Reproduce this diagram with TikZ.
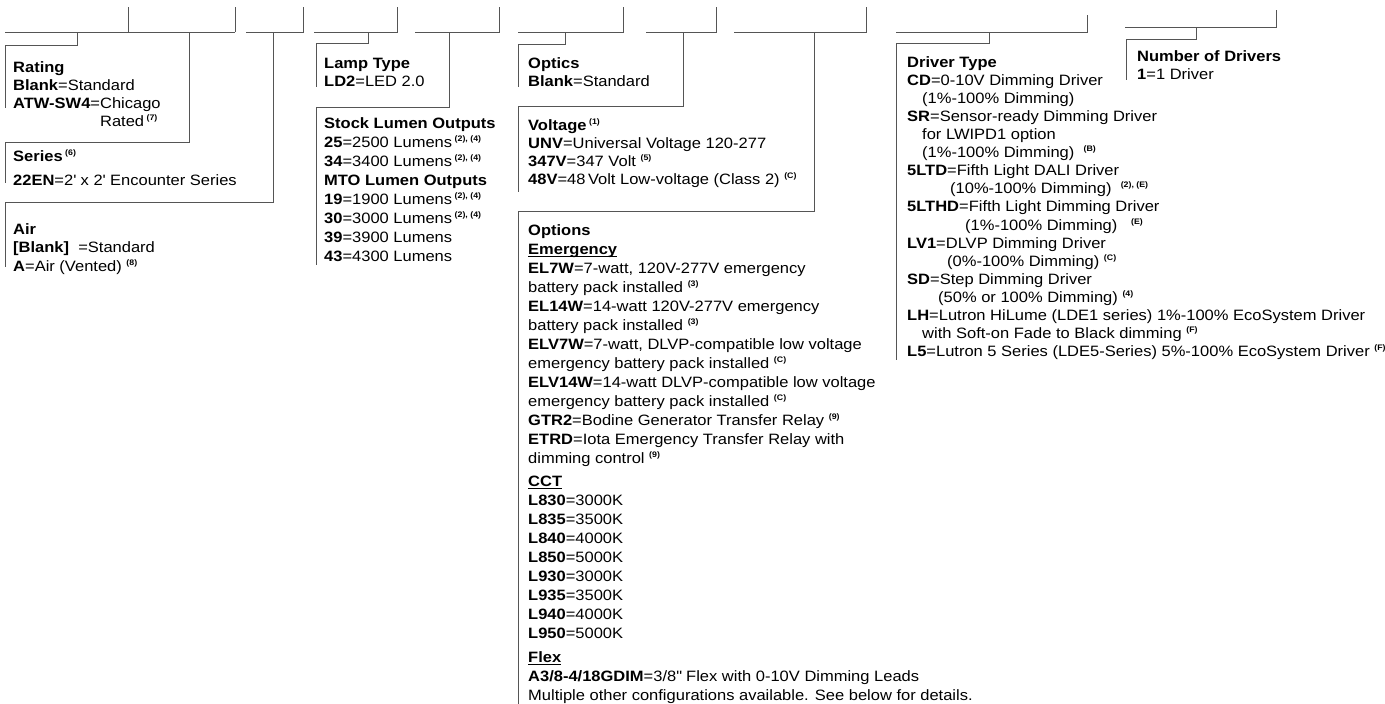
\documentclass[tikz,border=0pt]{standalone}
\usepackage{fontspec}
\setmainfont{Liberation Sans}[FakeStretch=1.1]
\usetikzlibrary{positioning}
\definecolor{rulegray}{RGB}{85,85,85}
\newcommand{\fnref}[1]{\raisebox{6pt}{\fontsize{8}{8}\selectfont\bfseries #1}}
\newsavebox{\ulbox}
\newcommand{\ulhead}[1]{\sbox\ulbox{\textbf{#1}}\rlap{\rule[-2.8pt]{\wd\ulbox}{0.9pt}}\usebox\ulbox}

\begin{document}
\begin{tikzpicture}[x=1pt, y=-1pt,
    guide/.style={draw=rulegray, line width=1pt},
    spec/.style={anchor=north west, inner sep=0pt, align=left, font=\fontsize{15}{#1}\selectfont},
    spec/.default=18]
    \useasboundingbox (0,0) rectangle (1385,704);
    % order slots along the top
    \draw[guide] (5,32) -- (235,32) (128,32) -- (128,7) (235,32) -- (235,7);
    \draw[guide] (246,32) -- (303,32) -- (303,7);
    \draw[guide] (314,32) -- (397,32) -- (397,7);
    \draw[guide] (415,32) -- (499,32) -- (499,7);
    \draw[guide] (518,32) -- (623,32) -- (623,7);
    \draw[guide] (646,32) -- (716,32) -- (716,7);
    \draw[guide] (734,32) -- (866,32) -- (866,7);
    \draw[guide] (896,32) -- (1087,32) -- (1087,15);
    \draw[guide] (1125,27) -- (1276,27) -- (1276,10);
    \coordinate (rating tab) at (77,32);
    \coordinate (series tab) at (189,32);
    \coordinate (air tab) at (273,32);
    \coordinate (lamp tab) at (368,32);
    \coordinate (lumen tab) at (449,32);
    \coordinate (optics tab) at (565,32);
    \coordinate (volt tab) at (683,32);
    \coordinate (options tab) at (814,32);
    \coordinate (driver tab) at (989,32);
    \coordinate (count tab) at (1196,27);
    % option blocks
    \node[spec] (rating) at (13,59.4) {\strut\textbf{Rating}\\
        \textbf{Blank}=Standard\\
        \textbf{ATW-SW4}=Chicago\\
        \hphantom{\textbf{ATW-SW4}=}Rated\,\fnref{(7)}};
    \node[spec] (series) at (13,148.4) {\strut\textbf{Series}\,\fnref{(6)}\\[6pt]
        \textbf{22EN}=2\textquotesingle{} x 2\textquotesingle{} Encounter Series};
    \node[spec=18.5] (air) at (13,221) {\strut\textbf{Air}\\
        \textbf{[Blank]}\ \ =Standard\\
        \textbf{A}=Air (Vented) \fnref{(8)}};
    \node[spec] (lamp) at (324,55.7) {\strut\textbf{Lamp Type}\\
        \textbf{LD2}=LED 2.0};
    \node[spec=19] (lumen) at (324,114.7) {\strut\textbf{Stock Lumen Outputs}\\
        \textbf{25}=2500 Lumens\,\fnref{(2), (4)}\\
        \textbf{34}=3400 Lumens\,\fnref{(2), (4)}\\
        \textbf{MTO Lumen Outputs}\\
        \textbf{19}=1900 Lumens\,\fnref{(2), (4)}\\
        \textbf{30}=3000 Lumens\,\fnref{(2), (4)}\\
        \textbf{39}=3900 Lumens\\
        \textbf{43}=4300 Lumens};
    \node[spec] (optics) at (528,55.4) {\strut\textbf{Optics}\\
        \textbf{Blank}=Standard};
    \node[spec] (volt) at (528,117.4) {\strut\textbf{Voltage}\,\fnref{(1)}\\
        \textbf{UNV}=Universal Voltage 120-277\\
        \textbf{347V}=347 Volt \fnref{(5)}\\
        \textbf{48V}=48\,Volt Low-voltage (Class 2) \fnref{(C)}};
    \node[spec=19] (options) at (528,221.7) {\strut\textbf{Options}\\
        \ulhead{Emergency}\\
        \textbf{EL7W}=7-watt, 120V-277V emergency\\
        battery pack installed \fnref{(3)}\\
        \textbf{EL14W}=14-watt 120V-277V emergency\\
        battery pack installed \fnref{(3)}\\
        \textbf{ELV7W}=7-watt, DLVP-compatible low voltage\\
        emergency battery pack installed \fnref{(C)}\\
        \textbf{ELV14W}=14-watt DLVP-compatible low voltage\\
        emergency battery pack installed \fnref{(C)}\\
        \textbf{GTR2}=Bodine Generator Transfer Relay \fnref{(9)}\\
        \textbf{ETRD}=Iota Emergency Transfer Relay with\\
        dimming control \fnref{(9)}\\[4pt]
        \ulhead{CCT}\\
        \textbf{L830}=3000K\\
        \textbf{L835}=3500K\\
        \textbf{L840}=4000K\\
        \textbf{L850}=5000K\\
        \textbf{L930}=3000K\\
        \textbf{L935}=3500K\\
        \textbf{L940}=4000K\\
        \textbf{L950}=5000K\\[5pt]
        \ulhead{Flex}\\
        \textbf{A3/8-4/18GDIM}=3/8\textquotedbl{} Flex with 0-10V Dimming Leads\\
        Multiple other configurations available. See below for details.};
    \node[spec=18.1] (driver) at (907,54.3) {\strut\textbf{Driver Type}\\
        \textbf{CD}=0-10V Dimming Driver\\
        \hspace*{15pt}(1\%-100\% Dimming)\\
        \textbf{SR}=Sensor-ready Dimming Driver\\
        \hspace*{15pt}for LWIPD1 option\\
        \hspace*{15pt}(1\%-100\% Dimming)\ \ \fnref{(B)}\\
        \textbf{5LTD}=Fifth Light DALI Driver\\
        \hspace*{43pt}(10\%-100\% Dimming)\ \ \fnref{(2), (E)}\\
        \textbf{5LTHD}=Fifth Light Dimming Driver\\
        \hspace*{58pt}(1\%-100\% Dimming)\ \ \ \fnref{(E)}\\
        \textbf{LV1}=DLVP Dimming Driver\\
        \hspace*{40pt}(0\%-100\% Dimming) \fnref{(C)}\\
        \textbf{SD}=Step Dimming Driver\\
        \hspace*{31pt}(50\% or 100\% Dimming) \fnref{(4)}\\
        \textbf{LH}=Lutron HiLume (LDE1 series) 1\%-100\% EcoSystem Driver\\
        \hspace*{15pt}with Soft-on Fade to Black dimming \fnref{(F)}\\
        \textbf{L5}=Lutron 5 Series (LDE5-Series) 5\%-100\% EcoSystem Driver \fnref{(F)}};
    \node[spec] (count) at (1137,48.4) {\strut\textbf{Number of Drivers}\\
        \textbf{1}=1 Driver};
    % leader lines down to each block
    \draw[guide] (rating tab) |- (5,45) -- (5,108);
    \draw[guide] (series tab) |- (5,142) -- (5,183);
    \draw[guide] (air tab) |- (5,202) -- (5,267);
    \draw[guide] (lamp tab) |- (316,43) -- (316,87);
    \draw[guide] (lumen tab) |- (316,107) -- (316,265);
    \draw[guide] (optics tab) |- (518,44) -- (518,87);
    \draw[guide] (volt tab) |- (518,106) -- (518,192);
    \draw[guide] (options tab) |- (518,211) -- (518,704);
    \draw[guide] (driver tab) |- (896,43) -- (896,360);
    \draw[guide] (count tab) |- (1126,39) -- (1126,80);
\end{tikzpicture}
\end{document}
